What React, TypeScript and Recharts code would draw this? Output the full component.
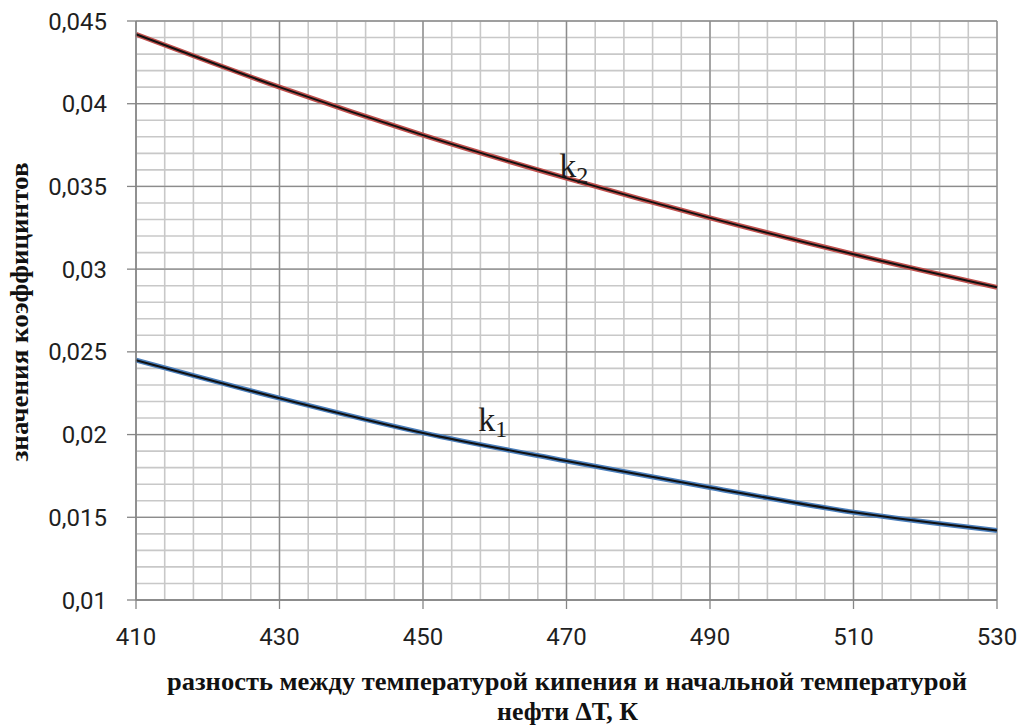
import React from 'react';
import { LineChart, Line, XAxis, YAxis, CartesianGrid, ReferenceDot } from 'recharts';

// разность температур, K
const deltaT = [410, 430, 450, 470, 490, 510, 530];
const k1Values = [0.0245, 0.0222, 0.0201, 0.0184, 0.0168, 0.0153, 0.0142];
const k2Values = [0.0442, 0.041, 0.0381, 0.0355, 0.0331, 0.0309, 0.0289];

const xDomain = [410, 530];
const yDomain = [0.01, 0.045];
const xTicks = [410, 430, 450, 470, 490, 510, 530];
const xMinorTicks = [
  410, 414, 418, 422, 426, 430, 434, 438, 442, 446, 450, 454, 458, 462, 466, 470,
  474, 478, 482, 486, 490, 494, 498, 502, 506, 510, 514, 518, 522, 526, 530,
];
const yTicks = [0.01, 0.015, 0.02, 0.025, 0.03, 0.035, 0.04, 0.045];
const yMinorTicks = [
  0.01, 0.011, 0.012, 0.013, 0.014, 0.015, 0.016, 0.017, 0.018, 0.019, 0.02, 0.021,
  0.022, 0.023, 0.024, 0.025, 0.026, 0.027, 0.028, 0.029, 0.03, 0.031, 0.032, 0.033,
  0.034, 0.035, 0.036, 0.037, 0.038, 0.039, 0.04, 0.041, 0.042, 0.043, 0.044, 0.045,
];

const data = deltaT.map((t, i) => ({ t, k1: k1Values[i], k2: k2Values[i] }));

const fmt = (v: number) => String(v).replace('.', ',');

const tickStyle = { fill: '#1f1f1f', fontSize: 24, fontFamily: 'Roboto, sans-serif' };
const serif = '"Liberation Serif", "Times New Roman", serif';

// minor grid positions go through the axis scale when it is handed over,
// otherwise through the plot offset and the same domain
const minorX = (props: any) => {
  const s = props?.xAxis?.scale;
  if (typeof s === 'function') return xMinorTicks.map((t) => s(t));
  if (s && typeof s.map === 'function') return xMinorTicks.map((t) => s.map(t));
  const o = props?.offset;
  if (!o) return [];
  return xMinorTicks.map((t) => o.left + ((t - xDomain[0]) / (xDomain[1] - xDomain[0])) * o.width);
};
const minorY = (props: any) => {
  const s = props?.yAxis?.scale;
  if (typeof s === 'function') return yMinorTicks.map((t) => s(t));
  if (s && typeof s.map === 'function') return yMinorTicks.map((t) => s.map(t));
  const o = props?.offset;
  if (!o) return [];
  return yMinorTicks.map((t) => o.top + ((yDomain[1] - t) / (yDomain[1] - yDomain[0])) * o.height);
};

const CurveLabel = (sub: string) => (p: any) => (
  <text x={p.cx} y={p.cy} fontFamily={serif} fontSize={34} fill="#1b1b1b">
    k<tspan fontSize={24} dy={6}>{sub}</tspan>
  </text>
);

export default function App() {
  return (
    <div style={{ position: 'absolute', left: 0, top: 0, width: 1022, height: 727, background: '#fff' }}>
      <LineChart width={1022} height={727} data={data} margin={{ top: 21, right: 25, bottom: 87, left: 0 }}>
        <CartesianGrid
          stroke="#c8c8c8"
          strokeWidth={1.6}
          verticalCoordinatesGenerator={minorX}
          horizontalCoordinatesGenerator={minorY}
        />
        <CartesianGrid stroke="#8c8c8c" strokeWidth={1.3} />
        <XAxis
          dataKey="t"
          type="number"
          domain={xDomain}
          ticks={xTicks}
          height={40}
          tickSize={9}
          tickMargin={19}
          stroke="#868686"
          strokeWidth={1.3}
          tick={tickStyle}
        />
        <YAxis
          type="number"
          domain={yDomain}
          ticks={yTicks}
          width={136}
          tickSize={9}
          tickMargin={20}
          tickFormatter={fmt}
          stroke="#868686"
          strokeWidth={1.3}
          tick={tickStyle}
        />
        <Line dataKey="k2" type="monotone" stroke="#c0504d" strokeWidth={5} dot={false} isAnimationActive={false} />
        <Line dataKey="k2" type="monotone" stroke="#111" strokeWidth={2} dot={false} isAnimationActive={false} />
        <Line dataKey="k1" type="monotone" stroke="#4a7ebb" strokeWidth={5} dot={false} isAnimationActive={false} />
        <Line dataKey="k1" type="monotone" stroke="#111" strokeWidth={2} dot={false} isAnimationActive={false} />
        <ReferenceDot x={469} y={0.0356} r={0} shape={CurveLabel('2')} />
        <ReferenceDot x={457.7} y={0.0202} r={0} shape={CurveLabel('1')} />
      </LineChart>
      <svg width={1022} height={727} style={{ position: 'absolute', left: 0, top: 0, pointerEvents: 'none' }}>
        <text
          x={28}
          y={312}
          transform="rotate(-90 28 312)"
          textAnchor="middle"
          fontFamily={serif}
          fontWeight="bold"
          fontSize={25}
          fill="#111"
          textLength={299}
          lengthAdjust="spacingAndGlyphs"
        >
          значения коэффицинтов
        </text>
        <text
          x={167}
          y={690}
          fontFamily={serif}
          fontWeight="bold"
          fontSize={26}
          fill="#111"
          textLength={800}
          lengthAdjust="spacingAndGlyphs"
        >
          разность между температурой кипения и начальной температурой
        </text>
        <text
          x={497}
          y={720}
          fontFamily={serif}
          fontWeight="bold"
          fontSize={26}
          fill="#111"
          textLength={141}
          lengthAdjust="spacingAndGlyphs"
        >
          нефти ΔТ, К
        </text>
      </svg>
    </div>
  );
}
